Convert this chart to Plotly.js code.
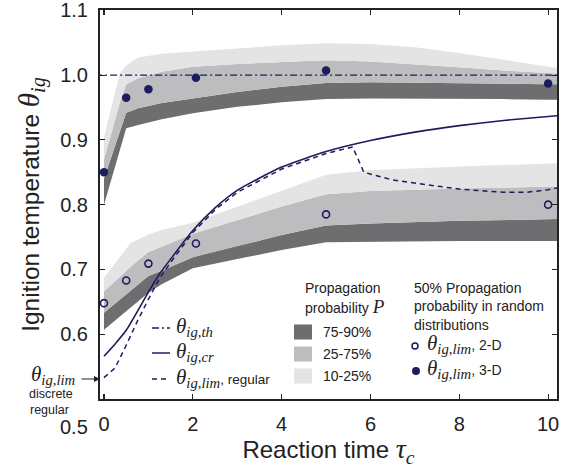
<!DOCTYPE html>
<html>
<head>
<meta charset="utf-8">
<script src="https://cdn.plot.ly/plotly-3.0.1.min.js"></script>
<style>html,body{margin:0;padding:0;background:#fff;}#chart{width:571px;height:468px;}</style>
</head>
<body>
<div id="chart"></div>
<script>
// ---------- data ----------
const xTicks = [0, 2, 4, 6, 8, 10];
const yTicks = [0.6, 0.7, 0.8, 0.9, 1.0, 1.1];
const yTickText = ['0.6', '0.7', '0.8', '0.9', '1.0', '1.1'];

// 3-D random distributions: propagation-probability band boundaries
const tauUpper = [0, 0.36, 0.5, 0.77, 1.3, 2, 3, 4, 5, 6, 7, 8, 9, 10, 10.3];
const upP10 = [0.905, 1.003, 1.015, 1.027, 1.033, 1.036, 1.041, 1.046, 1.049, 1.048, 1.043, 1.034, 1.024, 1.013, 1.010];
const upP25 = [0.870, 0.958, 0.986, 0.995, 1.005, 1.013, 1.017, 1.020, 1.023, 1.021, 1.017, 1.012, 1.007, 1.003, 1.002];
const upP75 = [0.840, 0.911, 0.942, 0.949, 0.957, 0.964, 0.974, 0.982, 0.988, 0.989, 0.988, 0.987, 0.986, 0.986, 0.986];
const upP90 = [0.800, 0.885, 0.918, 0.923, 0.932, 0.941, 0.951, 0.958, 0.963, 0.964, 0.964, 0.963, 0.963, 0.962, 0.962];

// 2-D random distributions: band boundaries
const tauLower = [0, 0.6, 1, 1.3, 2, 3, 4, 5, 6, 8, 10.3];
const lowP10 = [0.687, 0.741, 0.754, 0.761, 0.772, 0.797, 0.822, 0.846, 0.853, 0.859, 0.864];
const lowP25 = [0.666, 0.704, 0.727, 0.735, 0.755, 0.776, 0.797, 0.816, 0.821, 0.825, 0.828];
const lowP75 = [0.633, 0.667, 0.690, 0.698, 0.719, 0.736, 0.753, 0.768, 0.771, 0.775, 0.778];
const lowP90 = [0.607, 0.641, 0.664, 0.677, 0.702, 0.716, 0.730, 0.742, 0.743, 0.744, 0.744];

// threshold ignition temperature
const tauTh = [-0.2, 10.4];
const thetaTh = [1.0, 1.0];

// critical ignition temperature
const tauCr = [0, 0.25, 0.5, 0.75, 1, 1.25, 1.5, 2, 2.5, 3, 4, 5, 6, 7, 8, 9, 10, 10.3];
const thetaCr = [0.566, 0.585, 0.606, 0.635, 0.665, 0.693, 0.716, 0.760, 0.795, 0.822, 0.858, 0.882, 0.899, 0.912, 0.922, 0.930, 0.936, 0.938];

// limit ignition temperature, regular lattice
const tauLimReg = [0, 0.25, 0.5, 0.75, 1, 1.25, 1.5, 2, 2.5, 3, 4, 5, 5.6, 5.85, 6.5, 7.3, 8, 9, 9.5, 10, 10.3];
const thetaLimReg = [0.533, 0.548, 0.583, 0.620, 0.654, 0.686, 0.711, 0.757, 0.792, 0.819, 0.855, 0.879, 0.889, 0.850, 0.838, 0.830, 0.824, 0.819, 0.819, 0.823, 0.827];

// 50% propagation probability in random distributions
const tau2D = [0, 0.5, 1, 2.07, 5, 10];
const theta2D = [0.648, 0.683, 0.709, 0.740, 0.785, 0.800];
const tau3D = [0, 0.5, 1, 2.07, 5, 10];
const theta3D = [0.850, 0.965, 0.978, 0.996, 1.007, 0.987];

// ---------- styling ----------
const NAVY = '#1c1c5e';
const DARK = '#6e6e70';
const MID = '#bdbdbf';
const LIGHT = '#e4e4e5';
const SANS = 'Liberation Sans, Arial, sans-serif';
const SERIF = 'Liberation Serif';

// plot-area pixel box
const L = 100, R = 557, T = 10, B = 399, W = 571, H = 468;
const px = v => (v - L) / (R - L);
const py = v => (B - v) / (B - T);

const noLine = {width: 0};
const traces = [];
// upper group (3-D)
traces.push({x: tauUpper, y: upP90, mode: 'lines', line: noLine, hoverinfo: 'skip', showlegend: false});
traces.push({x: tauUpper, y: upP75, mode: 'lines', line: noLine, fill: 'tonexty', fillcolor: DARK, hoverinfo: 'skip', showlegend: false});
traces.push({x: tauUpper, y: upP25, mode: 'lines', line: noLine, fill: 'tonexty', fillcolor: MID, hoverinfo: 'skip', showlegend: false});
traces.push({x: tauUpper, y: upP10, mode: 'lines', line: noLine, fill: 'tonexty', fillcolor: LIGHT, hoverinfo: 'skip', showlegend: false});
// lower group (2-D)
traces.push({x: tauLower, y: lowP90, mode: 'lines', line: noLine, hoverinfo: 'skip', showlegend: false});
traces.push({x: tauLower, y: lowP75, mode: 'lines', line: noLine, fill: 'tonexty', fillcolor: DARK, hoverinfo: 'skip', showlegend: false});
traces.push({x: tauLower, y: lowP25, mode: 'lines', line: noLine, fill: 'tonexty', fillcolor: MID, hoverinfo: 'skip', showlegend: false});
traces.push({x: tauLower, y: lowP10, mode: 'lines', line: noLine, fill: 'tonexty', fillcolor: LIGHT, hoverinfo: 'skip', showlegend: false});
// lines
traces.push({x: tauTh, y: thetaTh, mode: 'lines', line: {color: NAVY, width: 1.3, dash: '7px,3px,2px,3px'}, showlegend: false});
traces.push({x: tauCr, y: thetaCr, mode: 'lines', line: {color: NAVY, width: 1.6, shape: 'spline', smoothing: 0.6}, showlegend: false});
traces.push({x: tauLimReg, y: thetaLimReg, mode: 'lines', line: {color: NAVY, width: 1.5, dash: '5px,4px'}, showlegend: false});
// markers
traces.push({x: tau2D, y: theta2D, mode: 'markers', marker: {symbol: 'circle-open', size: 7, color: NAVY, line: {width: 1.6, color: NAVY}}, showlegend: false, cliponaxis: false});
traces.push({x: tau3D, y: theta3D, mode: 'markers', marker: {symbol: 'circle', size: 8.5, color: NAVY}, showlegend: false, cliponaxis: false});

const th = (sub, size) => `<span style="font-family:${SERIF};font-size:${size || 21}px"><i>θ<sub>${sub}</sub></i></span>`;

const annotations = [];
const shapes = [];
function txt(text, x, y, size, xanchor, extra) {
  annotations.push(Object.assign({text: text, x: px(x), y: py(y), xref: 'paper', yref: 'paper',
    showarrow: false, xanchor: xanchor || 'left', yanchor: 'middle', font: {family: SANS, size: size, color: '#222'}}, extra || {}));
}
// left legend (line styles)
const legLines = [
  {y: 328, dash: '7px,3px,2px,3px', text: th('ig,th')},
  {y: 353, dash: 'solid', text: th('ig,cr')},
  {y: 379, dash: '5px,4px', text: th('ig,lim') + '<span style="font-size:13.5px">, regular</span>'}
];
legLines.forEach(o => {
  shapes.push({type: 'line', xref: 'paper', yref: 'paper', x0: px(152), x1: px(170), y0: py(o.y), y1: py(o.y),
    line: {color: NAVY, width: 1.5, dash: o.dash}});
  txt(o.text, 174, o.y - 1, 14);
});
// middle legend (probability bands)
txt('Propagation', 303, 288, 14);
txt('probability <span style="font-family:' + SERIF + ';font-size:19px"><i>P</i></span>', 303, 306, 14);
const legBands = [{y: 332, c: DARK, t: '75-90%'}, {y: 354, c: MID, t: '25-75%'}, {y: 376, c: LIGHT, t: '10-25%'}];
legBands.forEach(o => {
  shapes.push({type: 'rect', xref: 'paper', yref: 'paper', x0: px(294), x1: px(312), y0: py(o.y - 7.5), y1: py(o.y + 7.5),
    fillcolor: o.c, line: {width: 0}});
  txt(o.t, 321, o.y, 14);
});
// right legend (markers)
txt('50% Propagation', 412, 288, 14);
txt('probability in random', 412, 306, 14);
txt('distributions', 412, 325, 14);
shapes.push({type: 'circle', xref: 'paper', yref: 'paper', xsizemode: 'pixel', ysizemode: 'pixel',
  xanchor: px(415), yanchor: py(346), x0: -3, x1: 3, y0: -3, y1: 3, line: {color: NAVY, width: 1.5}, fillcolor: 'rgba(0,0,0,0)'});
shapes.push({type: 'circle', xref: 'paper', yref: 'paper', xsizemode: 'pixel', ysizemode: 'pixel',
  xanchor: px(416), yanchor: py(371), x0: -4, x1: 4, y0: -4, y1: 4, line: {color: NAVY, width: 0}, fillcolor: NAVY});
txt(th('ig,lim') + ', 2-D', 425, 344, 14);
txt(th('ig,lim') + ', 3-D', 425, 369, 14);

// discrete regular limit label with arrow
txt(th('ig,lim'), 77, 375, 14, 'right');
annotations.push({x: px(100), y: py(379), xref: 'paper', yref: 'paper', ax: -20, ay: 0, text: '',
  showarrow: true, arrowhead: 2, arrowsize: 1, arrowwidth: 1.2, arrowcolor: '#222'});
txt('discrete', 51, 394, 12.5, 'center');
txt('regular', 49, 410, 12.5, 'center');
// displaced bottom y label
txt('0.5', 90, 427, 20, 'right');

const NB = '\u00A0';
const layout = {
  width: W, height: H,
  margin: {l: L, r: W - R, t: T, b: H - B, pad: 0},
  paper_bgcolor: '#fff', plot_bgcolor: '#fff',
  showlegend: false,
  font: {family: SANS, color: '#222'},
  xaxis: {
    range: [-0.09, 10.2], tickvals: xTicks, ticks: 'inside', ticklen: 5, tickwidth: 1.2, tickcolor: '#222',
    showline: true, linewidth: 2, linecolor: '#222', mirror: 'ticks', showgrid: false, zeroline: false,
    tickfont: {family: SANS, size: 20, color: '#222'}, ticklabelstandoff: 6, ticklabeloverflow: 'allow',
    title: {text: NB.repeat(6) + 'Reaction time <span style="font-family:' + SERIF + ';font-size:28px"><i>τ<sub>c</sub></i></span>',
      font: {family: SANS, size: 24, color: '#222'}, standoff: 6}
  },
  yaxis: {
    range: [0.5, 1.1005], tickvals: yTicks, ticktext: yTickText, ticks: 'inside', ticklen: 5, tickwidth: 1.2, tickcolor: '#222',
    showline: true, linewidth: 2, linecolor: '#222', mirror: 'ticks', showgrid: false, zeroline: false,
    tickfont: {family: SANS, size: 20, color: '#222'}, ticklabelstandoff: 6, ticklabeloverflow: 'allow',
    title: {text: 'Ignition temperature <span style="font-family:' + SERIF + ';font-size:29px"><i>θ<sub>ig</sub></i></span>',
      font: {family: SANS, size: 24.5, color: '#222'}, standoff: 14}
  },
  shapes: shapes,
  annotations: annotations
};

Plotly.newPlot('chart', traces, layout, {displayModeBar: false, staticPlot: true});
</script>
</body>
</html>
